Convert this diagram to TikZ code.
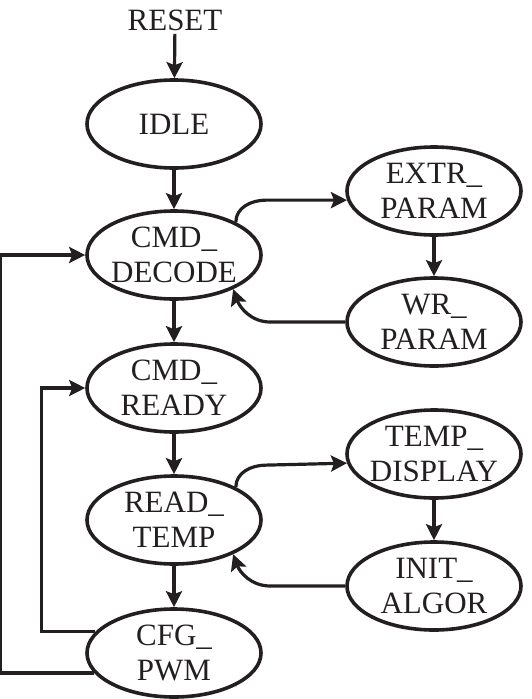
\documentclass[tikz,border=0pt]{standalone}
\usepackage{fontspec}
\setmainfont{Liberation Serif}
\usetikzlibrary{shapes.geometric,arrows.meta}
\definecolor{ink}{RGB}{35,31,32}
\begin{document}
\begin{tikzpicture}[x=1pt,y=1pt,
  st/.style={ellipse,draw=ink,line width=3.6pt,minimum width=174pt,minimum height=88pt,
    inner sep=-30pt,align=center,font=\fontsize{31}{35}\selectfont,text=ink},
  lbl/.style={font=\fontsize{31}{35}\selectfont,text=ink},
  tr/.style={line width=3.2pt,draw=ink,-{Stealth[length=16pt,width=16pt,inset=3pt]}},
]
\useasboundingbox (0,0) rectangle (532,-699);
\node[lbl] (reset) at (175,-20) {RESET};
\node[st] (idle) at (174,-124) {IDLE};
\node[st] (cd) at (174,-255) {CMD\_\\DECODE};
\node[st] (cr) at (174,-388) {CMD\_\\READY};
\node[st] (rt) at (174,-520) {READ\_\\TEMP};
\node[st] (cp) at (174,-653) {CFG\_\\PWM};
\node[st] (ep) at (434,-191) {EXTR\_\\PARAM};
\node[st] (wp) at (434,-322) {WR\_\\PARAM};
\node[st] (td) at (434,-454) {TEMP\_\\DISPLAY};
\node[st] (ia) at (434,-586) {INIT\_\\ALGOR};

\draw[tr] (reset) -- (idle);
\draw[tr] (idle) -- (cd);
\draw[tr] (cd) -- (cr);
\draw[tr] (cr) -- (rt);
\draw[tr] (rt) -- (cp);
\draw[tr] (ep) -- (wp);
\draw[tr] (td) -- (ia);

\draw[tr] (cd.28) to[out=90,in=180] ++(30,22) -- (ep.186);
\draw[tr] (wp.west) -- ++(-75,0) to[out=180,in=-70] (cd.-30);
\draw[tr] (rt.28) to[out=90,in=180] ++(30,22) -- (td.186);
\draw[tr] (ia.west) -- ++(-75,0) to[out=180,in=-70] (rt.-30);

\draw[tr] (cp.165) -- ++(-54,0) |- (cr.west);
\draw[tr] (cp.194) -- ++(-94,0) |- (cd.west);
\end{tikzpicture}
\end{document}
